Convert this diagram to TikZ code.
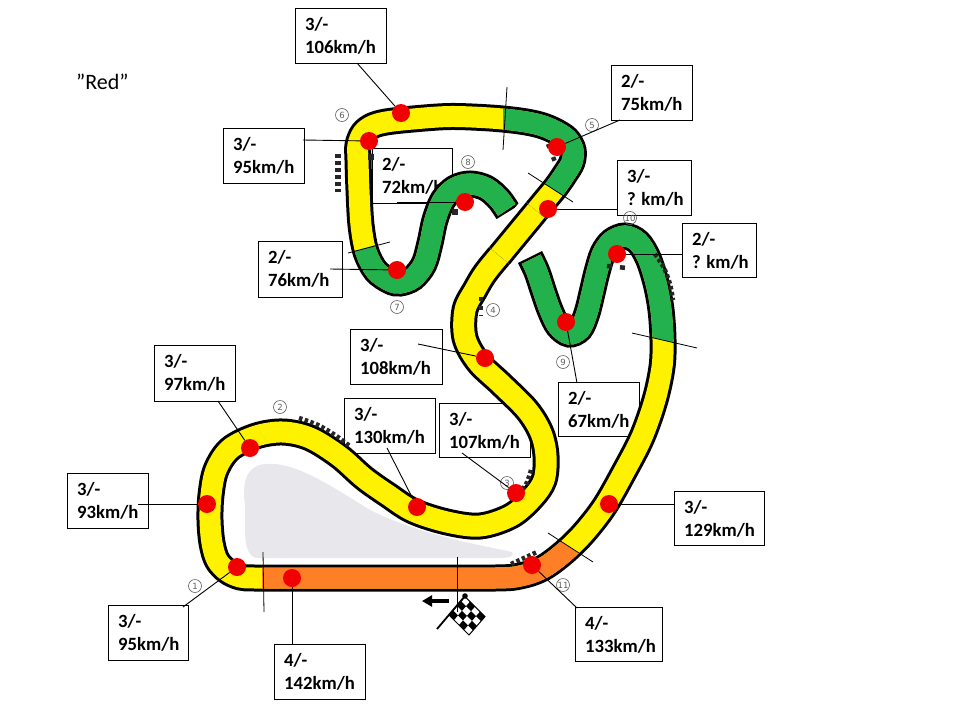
\documentclass[tikz,border=0pt]{standalone}
\usepackage{fontspec}
\newfontfamily\dvs{DejaVu Sans}
\newfontfamily\carl{Carlito}
\usetikzlibrary{arrows.meta}
\definecolor{tyel}{RGB}{255,242,0}
\definecolor{tgrn}{RGB}{34,177,76}
\definecolor{tora}{RGB}{255,127,39}
\definecolor{tred}{RGB}{240,0,0}
\definecolor{infield}{RGB}{232,232,236}
\definecolor{numgray}{RGB}{95,95,95}
\newcommand\trk{plot[smooth, tension=0.55] coordinates {(530,257) (537,272) (543,290) (550,310) (558,326) (569,334) (580,329) (587,313) (592,293) (597,272) (603,253) (612,241) (625,236) (638,242) (648,258) (656,283) (661,310) (663,340) (662,367) (655,400) (642,437) (624,472) (604,507) (582,535) (561,555) (541,569) (520,576) (495,578) (400,578) (300,578) (255,578) (240,577) (227,571) (217,560) (212,543) (210,520) (211,495) (216,470) (230,449) (256,436) (283,432) (310,438) (339,456) (364,478) (388,495) (413,511) (447,522) (480,526) (511,516) (532,498) (544,480) (546,456) (541,433) (527,410) (501,384) (478,362) (465,338) (465,310) (475,290) (486,272) (507,246.5) (528,221) (545,200.4) (556,187) (565,174) (572,162) (573,150) (567,139) (555,131) (540,125) (520,121) (490,118) (450,116.5) (413,119) (386,122) (372,126) (363,133) (358,145) (358,160) (359,190) (361,225) (366,252) (376,271) (390,281) (400,283) (413,278) (424,264) (430,243) (435,220) (443,200) (455,188) (470,184) (486,188) (499,199) (508,212)}}
\newcommand\callout[7]{%
  \pgfmathsetmacro\cbw{#4-#2}\pgfmathsetmacro\cbh{#5-#3}%
  \node[cbox, minimum width=\cbw pt, minimum height=\cbh pt] (#1) at ({(#2+#4)/2},{(#3+#5)/2}) {};
  \node[ctext] (#1a) at ({#2+10},{#3+22}) {#6};
  \node[ctext] (#1b) at ({#2+10},{#3+45}) {#7};}
\tikzset{
  cbox/.style={draw=black, line width=0.9pt, fill=white, inner sep=0pt},
  ctext/.style={anchor=base west, inner sep=0pt, font=\carl\bfseries\fontsize{18.7}{22}\selectfont},
  dot/.style={circle, fill=tred, minimum size=18pt, inner sep=0pt},
  leader/.style={line width=0.9pt},
  sector/.style={line width=0.8pt},
  kerb/.style={line width=4.5pt, black!85, dash pattern=on 3.5pt off 2.5pt},
  cnum/.style={circle, draw=numgray, line width=0.6pt, minimum size=13pt, inner sep=0pt, text=numgray, font=\dvs\fontsize{8.5}{9}\selectfont},
  trackcol/.style={line width=21pt, shorten <=2.5pt, shorten >=2.5pt},
}
\begin{document}
\begin{tikzpicture}[x=1pt,y=-1pt]
\useasboundingbox (0,0) rectangle (960,720);
\fill[white] (0,0) rectangle (960,720);
% infield
\fill[infield] (245,505) .. controls (240,470) and (255,462) .. (275,464) .. controls (300,466) and (330,485) .. (370,510) .. controls (420,535) and (480,545) .. (512,552) .. controls (515,556) and (510,558) .. (500,558) -- (258,558) .. controls (248,558) and (245,545) .. (245,530) -- cycle;
% title
\node[anchor=base west, inner sep=0pt, font=\carl\fontsize{22}{26}\selectfont] (title) at (76,89.5) {”Red”};
% callout boxes
\callout{b106}{295}{8}{386}{63}{3/-}{106km/h}
\callout{b75}{611}{65}{692}{120}{2/-}{75km/h}
\callout{b95t}{223}{128}{304}{183}{3/-}{95km/h}
\callout{b72}{372}{148}{452}{203}{2/-}{72km/h}
\callout{bq3}{617}{160}{691}{215}{3/-}{? km/h}
\callout{bq2}{682}{223}{756}{277}{2/-}{? km/h}
\callout{b76}{258}{241}{342}{297}{2/-}{76km/h}
\callout{b108}{350}{329}{442}{384}{3/-}{108km/h}
\callout{b97}{154}{345}{235}{401}{3/-}{97km/h}
\callout{b130}{344}{398}{435}{453}{3/-}{130km/h}
\callout{b107}{439}{403}{530}{457}{3/-}{107km/h}
\callout{b67}{558}{382}{639}{436}{2/-}{67km/h}
\callout{b93}{67}{473}{148}{528}{3/-}{93km/h}
\callout{b129}{674}{491}{764}{545}{3/-}{129km/h}
\callout{b95b}{108}{605}{188}{660}{3/-}{95km/h}
\callout{b142}{274}{644}{365}{699}{4/-}{142km/h}
\callout{b133}{575}{607}{662}{661}{4/-}{133km/h}
% track
\draw[line width=27pt, black] \trk;
\draw[trackcol, tyel] \trk;
\begin{scope}
\clip (503,60) -- (700,60) -- (700,214) -- (573,202) -- (528,173) -- (503,157) -- cycle;
\draw[trackcol, tgrn] \trk;
\end{scope}
\begin{scope}
\clip (330,258) -- (400,238) -- (405,160) -- (500,160) -- (527.6,198.7) -- (476.7,260.5) -- (452,285) -- (445,300) -- (330,300) -- cycle;
\draw[trackcol, tgrn] \trk;
\end{scope}
\begin{scope}
\clip (492.8,286.6) -- (552.5,214) -- (715,214) -- (715,352) -- (620,330) -- (600,365) -- (540,365) -- cycle;
\draw[trackcol, tgrn] \trk;
\end{scope}
\begin{scope}
\clip (262,550) -- (525,550) -- (535,525) -- (620,580) -- (620,620) -- (262,620) -- cycle;
\draw[trackcol, tora] \trk;
\end{scope}
% overpass
\coordinate (ovA) at (499.4,255.8);
\coordinate (ovB) at (536.3,211.0);
\draw[white, line width=37pt] (ovA) -- (ovB);
\draw[black, line width=27pt] (ovA) -- (ovB);
\draw[tyel, line width=21pt] (ovA) -- (ovB);
% sector lines
\draw[sector] (507,87) -- (503,150);
\draw[sector] (528,173) -- (573,202);
\draw[sector] (348,253) -- (390,242);
\draw[sector] (632,333) -- (697,348);
\draw[sector] (548,533) -- (593,562);
\draw[sector] (263,552) -- (264,612);
\draw[sector] (457,557) -- (457,612);
% kerbs
\draw[kerb] plot[smooth] coordinates {(299,418) (318,425) (335,435) (351,447)};
\draw[kerb, line width=6pt, dash pattern=on 4pt off 3pt] (338,154) -- (338,192);
\draw[kerb, dash pattern=on 4pt off 5pt] (481,297) -- (481,316);
\draw[kerb] plot[smooth] coordinates {(531,470) (525,486) (510,500)};
\draw[kerb] (511,564) -- (537,552);
\draw[kerb] plot[smooth] coordinates {(655,254) (664,268) (670,284) (673,300)};
\draw[kerb, dash pattern=on 5pt off 8pt] (607,266) -- (627,268);
\draw[kerb, dash pattern=on 4pt off 10pt] (548,144) -- (555,162);
\fill[black!85] (452,209) rectangle (458,215);
\fill[black!85] (368,154) rectangle (374,160);
% circled numbers
\node[cnum] (c1) at (195,586) {1};
\node[cnum] (c2) at (280,407) {2};
\node[cnum] (c3) at (507,483) {3};
\node[cnum] (c4) at (493,310) {4};
\node[cnum] (c5) at (592,125) {5};
\node[cnum] (c6) at (342,115) {6};
\node[cnum] (c7) at (397,307) {7};
\node[cnum] (c8) at (468,162) {8};
\node[cnum] (c9) at (563,362) {9};
\node[cnum] (c10) at (630,218) {10};
\node[cnum] (c11) at (563,585) {11};
% dots
\node[dot] (d106) at (401,113) {};
\node[dot] (d95t) at (369,141) {};
\node[dot] (d75) at (557,147) {};
\node[dot] (d72) at (465,202) {};
\node[dot] (dq3) at (548,209) {};
\node[dot] (dq2) at (617,254) {};
\node[dot] (d76) at (397,270) {};
\node[dot] (d108) at (485,358) {};
\node[dot] (d67) at (566,322) {};
\node[dot] (d97) at (250,448) {};
\node[dot] (d93) at (207,504) {};
\node[dot] (d130) at (417,507) {};
\node[dot] (d107) at (516,493) {};
\node[dot] (d129) at (609,504) {};
\node[dot] (d95b) at (237,567) {};
\node[dot] (d142) at (292,578) {};
\node[dot] (d133) at (532,565) {};
% leader lines
\coordinate (l106) at (357,63);
\coordinate (l75) at (620,120);
\coordinate (l95t) at (303,140);
\coordinate (l72) at (397,202);
\coordinate (lq3) at (617,209);
\coordinate (lq2) at (682,254);
\coordinate (l76) at (330,269);
\coordinate (l108) at (418,344);
\coordinate (l97) at (218,401);
\coordinate (l130) at (387,448);
\coordinate (l107) at (462,453);
\coordinate (l67) at (577,383);
\coordinate (l93) at (138,504);
\coordinate (l129) at (674,504);
\coordinate (l95b) at (183,607);
\coordinate (l142) at (292,645);
\coordinate (l133) at (577,608);
\draw[leader] (l106) -- (d106);
\draw[leader] (l75) -- (d75);
\draw[leader] (l95t) -- (d95t);
\draw[leader] (l72) -- (d72);
\draw[leader] (lq3) -- (dq3);
\draw[leader] (lq2) -- (dq2);
\draw[leader] (l76) -- (d76);
\draw[leader] (l108) -- (d108);
\draw[leader] (l97) -- (d97);
\draw[leader] (l130) -- (d130);
\draw[leader] (l107) -- (d107);
\draw[leader] (l67) -- (d67);
\draw[leader] (l93) -- (d93);
\draw[leader] (l129) -- (d129);
\draw[leader] (l95b) -- (d95b);
\draw[leader] (l142) -- (d142);
\draw[leader] (l133) -- (d133);
% start arrow and flag
\coordinate (arT) at (449,601);
\coordinate (arH) at (422,601);
\draw[line width=4pt, -{Triangle[length=10pt,width=11pt]}] (arT) -- (arH);
\coordinate (poleB) at (437,629);
\coordinate (poleT) at (465,596);
\draw[line width=1.8pt] (poleB) -- (poleT);
\fill (poleT) circle (2.8);
\begin{scope}[shift={(449,615)}, x={(5pt,-5pt)}, y={(4pt,4.6pt)}]
  \foreach \i in {0,...,3}{\foreach \j in {0,...,3}{%
    \pgfmathtruncatemacro\cpar{mod(\i+\j,2)}%
    \ifnum\cpar=0 \fill[black] (\i,\j) -- ++(1,0) -- ++(0,1) -- ++(-1,0) -- cycle;\fi}}
  \draw[line width=1pt] (0,0) -- (4,0) -- (4,4) -- (0,4) -- cycle;
\end{scope}
\end{tikzpicture}
\end{document}
